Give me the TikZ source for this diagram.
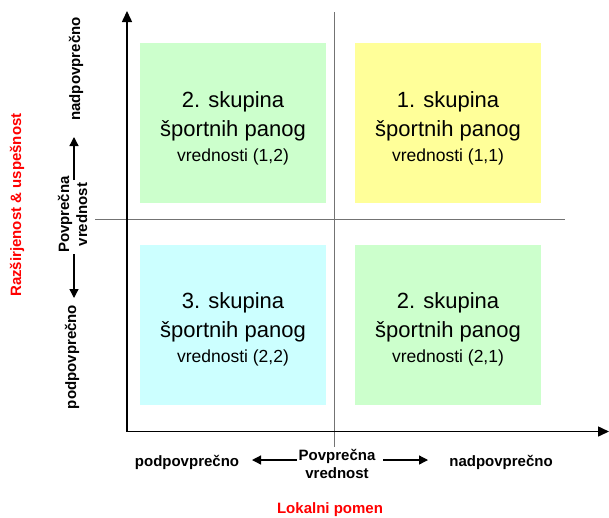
\documentclass[tikz,border=0pt]{standalone}
\usepackage{fontspec}
\setmainfont{Liberation Sans}
\usetikzlibrary{arrows.meta}
\definecolor{qgreen}{HTML}{CCFFCC}
\definecolor{qyellow}{HTML}{FFFF99}
\definecolor{qcyan}{HTML}{CCFFFF}
\definecolor{qred}{HTML}{FF0000}
\tikzset{
  quad/.style={draw=none, minimum width=186pt, minimum height=160pt, inner sep=0pt},
  quadtxt/.style={inner sep=0pt, align=center, font=\fontsize{22}{29}\selectfont},
  axislbl/.style={font=\fontsize{15}{18}\selectfont\bfseries, align=center, inner sep=0pt},
  redlbl/.style={font=\fontsize{15}{18}\selectfont\bfseries, text=qred, inner sep=0pt},
  axisline/.style={line width=1.5pt, -{Triangle[length=11pt,width=10pt]}},
  crossline/.style={line width=1.2pt, draw=black!55},
  smallarrow/.style={line width=1.3pt, -{Triangle[length=9pt,width=9pt]}},
}
\newcommand{\qsmall}{\fontsize{17.5}{26}\selectfont}
\begin{document}
\begin{tikzpicture}[x=1pt,y=-1pt]
\useasboundingbox (0,0) rectangle (609,517);
% quadrants
\node[quad, fill=qgreen]  (q12) at (233,123) {};
\node[quad, fill=qyellow] (q11) at (448,123) {};
\node[quad, fill=qcyan]   (q22) at (233,324.5) {};
\node[quad, fill=qgreen]  (q21) at (448,324.5) {};
\node[quadtxt] (t12) at ([yshift=-5pt]q12.center) {2. skupina\\ športnih panog\\[-4pt] \qsmall vrednosti (1,2)};
\node[quadtxt] (t11) at ([yshift=-5pt]q11.center) {1. skupina\\ športnih panog\\[-4pt] \qsmall vrednosti (1,1)};
\node[quadtxt] (t22) at ([yshift=-5pt]q22.center) {3. skupina\\ športnih panog\\[-4pt] \qsmall vrednosti (2,2)};
\node[quadtxt] (t21) at ([yshift=-5pt]q21.center) {2. skupina\\ športnih panog\\[-4pt] \qsmall vrednosti (2,1)};
% cross lines
\coordinate (vtop) at (334.5,12);
\coordinate (vbot) at (334.5,447);
\coordinate (hl) at (95,219.5);
\coordinate (hr) at (565,219.5);
\draw[crossline] (vtop) -- (vbot);
\draw[crossline] (hl) -- (hr);
% axes
\coordinate (origin) at (127,431.5);
\coordinate (ytip) at (127,11);
\coordinate (xtip) at (609,431.5);
\draw[axisline] (origin) -- (ytip);
\draw[axisline] (origin) -- (xtip);
% left labels
\node[axislbl, rotate=90] (lnad) at (76,69) {nadpovprečno};
\node[axislbl, rotate=90] (lpv) at (72.5,214.5) {Povprečna\\vrednost};
\node[axislbl, rotate=90] (lpod) at (72,357) {podpovprečno};
\node[redlbl, rotate=90] (lred) at (17,205) {Razširjenost \& uspešnost};
\coordinate (lup1) at (74,180);
\coordinate (lup2) at (74,137);
\coordinate (ldn1) at (74,254);
\coordinate (ldn2) at (74,298);
\draw[smallarrow] (lup1) -- (lup2);
\draw[smallarrow] (ldn1) -- (ldn2);
% bottom labels
\node[axislbl] (bpod) at (187,462) {podpovprečno};
\node[axislbl] (bpv) at (337,464) {Povprečna\\vrednost};
\node[axislbl] (bnad) at (501,462) {nadpovprečno};
\node[redlbl] (bred) at (330,510) {Lokalni pomen};
\coordinate (bl1) at (297,460);
\coordinate (bl2) at (252,460);
\coordinate (br1) at (383,460);
\coordinate (br2) at (428,460);
\draw[smallarrow] (bl1) -- (bl2);
\draw[smallarrow] (br1) -- (br2);
\end{tikzpicture}
\end{document}
